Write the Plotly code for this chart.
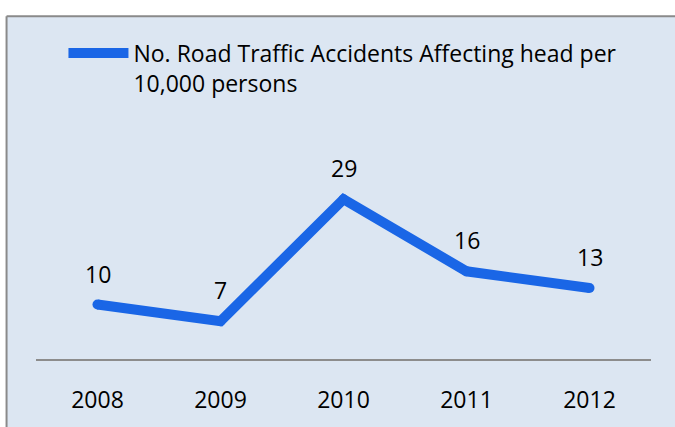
import plotly.graph_objects as go

# Data
years = ["2008", "2009", "2010", "2011", "2012"]
accidents = [10, 7, 29, 16, 13]
series_name = "No. Road Traffic Accidents Affecting head per<br>10,000 persons"

W, H = 675, 427
M_L, M_R, M_T, M_B = 35.5, 23.5, 166, 62
LINE_BLUE = "#1a66e6"
BG = "#dce6f2"
BORDER = "#8a8a8a"
FONT = "Open Sans"
FS = 23

fig = go.Figure()

fig.add_trace(go.Scatter(
    x=years, y=accidents, mode="lines", name=series_name,
    line=dict(color=LINE_BLUE, width=10),
))
# round caps / joins at each vertex
fig.add_trace(go.Scatter(
    x=years, y=accidents, mode="markers", showlegend=False,
    marker=dict(color=LINE_BLUE, size=10, line=dict(width=0)),
    hoverinfo="skip",
))

# value labels above each point (category axis -> use positional index)
for i, v in enumerate(accidents):
    fig.add_annotation(x=i, y=v, xref="x", yref="y", text=str(v),
                       showarrow=False, yanchor="middle", yshift=31,
                       font=dict(family=FONT, size=FS, color="#000000"))

# framed background panel (pixel -> paper conversion)
pw = W - M_L - M_R
ph = H - M_T - M_B
def px_x(p):
    return (p - M_L) / pw
def px_y(p):
    return (H - M_B - p) / ph

fig.add_shape(type="rect", xref="paper", yref="paper", layer="below",
              x0=px_x(6), x1=px_x(720), y0=px_y(470), y1=px_y(12.5),
              fillcolor=BG, line=dict(width=0))
# top and left edges of the frame
fig.add_shape(type="line", xref="paper", yref="paper", layer="below",
              x0=px_x(6), x1=px_x(720), y0=px_y(12.5), y1=px_y(12.5),
              line=dict(color=BORDER, width=2))
fig.add_shape(type="line", xref="paper", yref="paper", layer="below",
              x0=px_x(6), x1=px_x(6), y0=px_y(12.5), y1=px_y(470),
              line=dict(color=BORDER, width=2))

fig.update_layout(
    width=W, height=H,
    margin=dict(l=M_L, r=M_R, t=M_T, b=M_B, pad=0),
    paper_bgcolor="white", plot_bgcolor="rgba(0,0,0,0)",
    font=dict(family=FONT, size=FS, color="#000000"),
    showlegend=True,
    legend=dict(x=px_x(63), y=px_y(28), xanchor="left", yanchor="top",
                bgcolor="rgba(0,0,0,0)", itemwidth=60, valign="top",
                font=dict(family=FONT, size=FS, color="#000000"),
                tracegroupgap=0),
    xaxis=dict(type="category", range=[-0.5, 4.5], showgrid=False,
               showline=False, zeroline=False, ticks="",
               ticklabelstandoff=24, fixedrange=True),
    yaxis=dict(range=[0, 35], showgrid=False, zeroline=True,
               zerolinecolor="#8c8c8c", zerolinewidth=2,
               showticklabels=False, showline=False, fixedrange=True),
)

fig.write_html("out.html", config={"displayModeBar": False})
